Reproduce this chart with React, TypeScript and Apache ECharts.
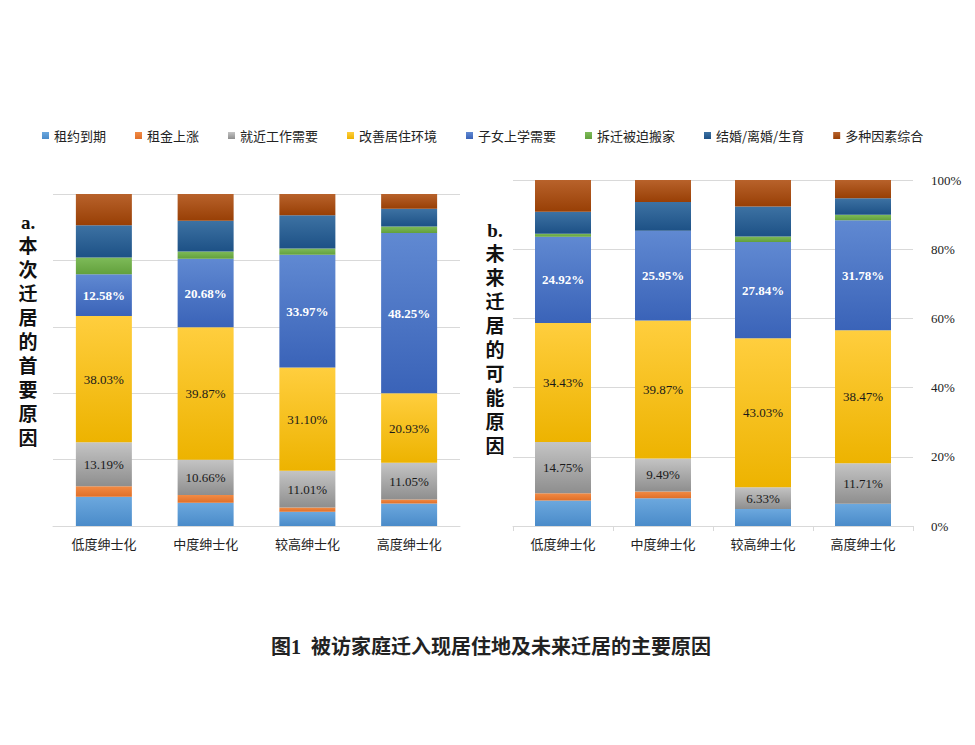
import React, { useEffect, useRef } from "react";
import * as echarts from "echarts";

const categories = ["低度绅士化", "中度绅士化", "较高绅士化", "高度绅士化"];
const seriesNames = ["租约到期", "租金上涨", "就近工作需要", "改善居住环境", "子女上学需要", "拆迁被迫搬家", "结婚/离婚/生育", "多种因素综合"];

// a. 本次迁居的首要原因 (%)
const firstLease = [8.8, 7.0, 4.3, 6.8];
const firstRent = [3.2, 2.3, 1.3, 1.2];
const firstWork = [13.19, 10.66, 11.01, 11.05];
const firstEnv = [38.03, 39.87, 31.1, 20.93];
const firstSchool = [12.58, 20.68, 33.97, 48.25];
const firstDemolish = [5.1, 2.2, 1.9, 2.0];
const firstMarriage = [9.7, 9.2, 10.0, 5.3];
const firstMixed = [9.4, 8.1, 6.42, 4.47];

// b. 未来迁居的可能原因 (%)
const futureLease = [7.4, 8.0, 4.9, 6.4];
const futureRent = [2.1, 2.0, 0, 0];
const futureWork = [14.75, 9.49, 6.33, 11.71];
const futureEnv = [34.43, 39.87, 43.03, 38.47];
const futureSchool = [24.92, 25.95, 27.84, 31.78];
const futureDemolish = [0.9, 0, 1.6, 1.6];
const futureMarriage = [6.3, 8.3, 8.67, 4.8];
const futureMixed = [9.2, 6.39, 7.63, 5.24];

const yTicks = [0, 20, 40, 60, 80, 100];

const colorTop = ["#6CA8DE", "#F28B45", "#C4C4C4", "#FFCE3E", "#6089D2", "#7EBB59", "#3D72A3", "#B8622B"];
const colorBottom = ["#4A8BC9", "#E06F28", "#8E8E8E", "#EDB300", "#3A63B8", "#62A03C", "#1D5186", "#983F05"];

export default function App() {
  const ref = useRef<HTMLDivElement>(null);
  useEffect(() => {
    if (!ref.current) return;
    const chart = echarts.init(ref.current, null, { renderer: "svg" });
    const firstData = [firstLease, firstRent, firstWork, firstEnv, firstSchool, firstDemolish, firstMarriage, firstMixed];
    const futureData = [futureLease, futureRent, futureWork, futureEnv, futureSchool, futureDemolish, futureMarriage, futureMixed];

    const makeSeries = (data: number[][], idx: number, stack: string) =>
      data.map((vals, i) => {
        const labelOn = i === 2 || i === 3 || i === 4;
        const white = i === 4;
        return {
          name: seriesNames[i],
          type: "bar",
          stack,
          xAxisIndex: idx,
          yAxisIndex: idx,
          barWidth: 56,
          data: vals,
          itemStyle: {
            color: new echarts.graphic.LinearGradient(0, 0, 0, 1, [
              { offset: 0, color: colorTop[i] },
              { offset: 1, color: colorBottom[i] },
            ]),
          },
          label: {
            show: labelOn,
            position: "inside",
            formatter: (p: any) => Number(p.value).toFixed(2) + "%",
            color: white ? "#ffffff" : "#1a1a1a",
            fontWeight: white ? "bold" : "normal",
            fontFamily: '"Liberation Serif", serif',
            fontSize: 13,
          },
          emphasis: { disabled: true },
        };
      });

    const vChars = (s: string) => s.split("").join("\n");

    chart.setOption({
      animation: false,
      legend: {
        data: seriesNames,
        left: 37,
        top: 124,
        itemWidth: 7,
        itemHeight: 7,
        itemGap: 29,
        icon: "rect",
        textStyle: { fontSize: 13, color: "#222", fontFamily: '"Noto Sans CJK SC", sans-serif' },
      },
      grid: [
        { left: 53, right: 515, top: 194, bottom: 219 },
        { left: 513, right: 62, top: 180, bottom: 219 },
      ],
      xAxis: [0, 1].map((g) => ({
        type: "category",
        gridIndex: g,
        data: categories,
        axisLine: { show: true, lineStyle: { color: "#d9d9d9" } },
        axisTick: { show: g === 1, length: 5, lineStyle: { color: "#d9d9d9" } },
        axisLabel: { fontSize: 13, color: "#222", margin: 11, fontFamily: '"Noto Sans CJK SC", sans-serif' },
      })),
      yAxis: [0, 1].map((g) => ({
        type: "value",
        gridIndex: g,
        min: yTicks[0],
        max: yTicks[yTicks.length - 1],
        interval: 20,
        position: g === 1 ? "right" : "left",
        axisLine: { show: false },
        axisTick: { show: false },
        splitLine: { lineStyle: { color: "#d9d9d9" } },
        axisLabel: {
          show: g === 1,
          formatter: "{value}%",
          margin: 18,
          fontSize: 13,
          color: "#222",
          fontFamily: '"Liberation Serif", serif',
        },
      })),
      graphic: [
        {
          type: "text",
          x: 28,
          y: 210,
          style: {
            text: "a.\n" + vChars("本次迁居的首要原因"),
            textAlign: "center",
            textVerticalAlign: "top",
            fontSize: 19,
            lineHeight: 24,
            fontWeight: "bold",
            fill: "#111",
            fontFamily: '"Liberation Serif", "Noto Sans CJK SC", serif',
          },
        },
        {
          type: "text",
          x: 495,
          y: 218,
          style: {
            text: "b.\n" + vChars("未来迁居的可能原因"),
            textAlign: "center",
            textVerticalAlign: "top",
            fontSize: 19,
            lineHeight: 24,
            fontWeight: "bold",
            fill: "#111",
            fontFamily: '"Liberation Serif", "Noto Sans CJK SC", serif',
          },
        },
        {
          type: "text",
          x: 491,
          y: 647,
          style: {
            text: "图1  被访家庭迁入现居住地及未来迁居的主要原因",
            textAlign: "center",
            textVerticalAlign: "middle",
            fontSize: 20,
            fontWeight: "bold",
            fill: "#222",
            fontFamily: '"Liberation Serif", "Noto Sans CJK SC", serif',
          },
        },
      ],
      series: [...makeSeries(firstData, 0, "a"), ...makeSeries(futureData, 1, "b")],
    });
    return () => chart.dispose();
  }, []);
  return (
    <div
      ref={ref}
      style={{ position: "absolute", left: 0, top: 0, width: 975, height: 745, background: "#fff" }}
    />
  );
}
